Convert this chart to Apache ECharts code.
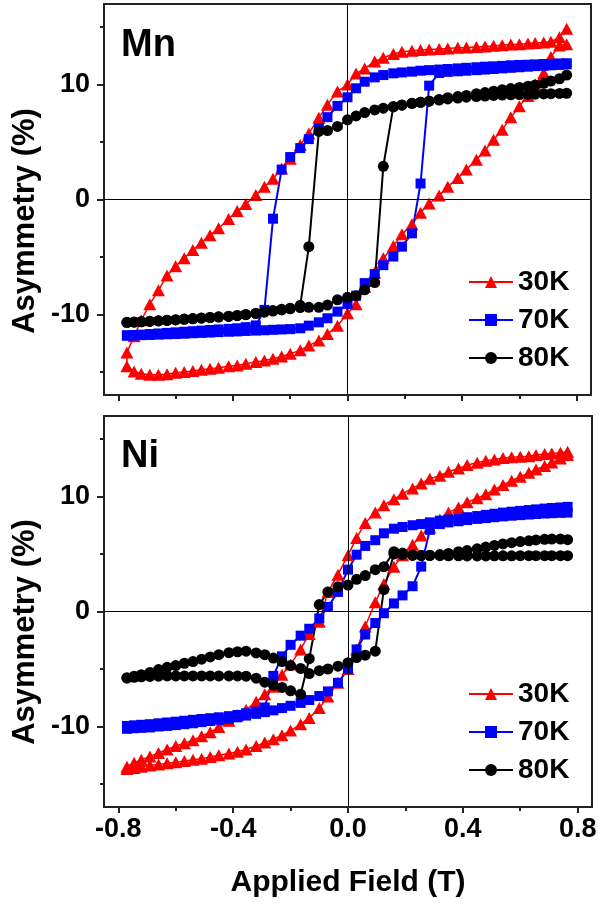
<!DOCTYPE html>
<html>
<head>
<meta charset="utf-8">
<script src="https://cdn.jsdelivr.net/npm/echarts@6/dist/echarts.min.js"></script>
<style>html,body{margin:0;padding:0;background:#fff}#chart{width:600px;height:904px}</style>
</head>
<body>
<div id="chart"></div>
<script>
// ---- data (applied field in T, asymmetry in %) ----
const fieldGrid = [-0.77, -0.745, -0.72, -0.69, -0.66, -0.63, -0.60, -0.57, -0.54, -0.51,
  -0.48, -0.45, -0.415, -0.385, -0.355, -0.32, -0.29, -0.26, -0.23, -0.20,
  -0.165, -0.135, -0.10, -0.07, -0.035, 0, 0.03, 0.06, 0.095, 0.125,
  0.16, 0.19, 0.225, 0.255, 0.285, 0.32, 0.35, 0.385, 0.415, 0.45,
  0.48, 0.51, 0.54, 0.57, 0.60, 0.63, 0.655, 0.685, 0.71, 0.74, 0.765];

// Mn panel: descending-field branch and ascending-field branch (values listed at fieldGrid order)
const mn30Down = [-13.3, -11.9, -10.5, -9.1, -7.9, -6.6, -5.8, -5.1, -4.4, -3.75,
  -3.1, -2.5, -1.7, -1.0, -0.4, 0.4, 1.1, 1.8, 2.7, 3.55,
  4.75, 5.75, 7.1, 8.25, 9.4, 10.0, 10.95, 11.4, 12.0, 12.33,
  12.65, 12.85, 12.93, 13.0, 13.05, 13.08, 13.14, 13.19, 13.22, 13.27,
  13.3, 13.36, 13.42, 13.48, 13.5, 13.57, 13.6, 13.65, 13.72, 14.1, 14.85];
const mn30Up = [-14.5, -14.95, -15.15, -15.24, -15.24, -15.2, -15.07, -15.0, -14.92, -14.8,
  -14.72, -14.63, -14.5, -14.43, -14.29, -14.12, -14.0, -13.85, -13.65, -13.42,
  -13.1, -12.7, -12.27, -11.7, -10.97, -9.9, -9.1, -7.6, -6.35, -5.1,
  -4.04, -3.03, -2.16, -1.15, -0.35, 0.35, 1.1, 1.88, 2.6, 3.46,
  4.27, 5.19, 6.06, 7.16, 8.1, 9.0, 10.0, 11.0, 12.4, 13.4, 13.5];
const mn70Down = [-11.8, -11.78, -11.75, -11.7, -11.65, -11.6, -11.55, -11.5, -11.45, -11.4,
  -11.35, -11.3, -11.25, -11.2, -11.1, -10.95, -9.6, -1.67, 2.6, 3.69,
  4.47, 5.25, 6.2, 7.16, 8.14, 8.89, 9.67, 10.24, 10.62, 10.82,
  10.97, 11.05, 11.12, 11.2, 11.25, 11.3, 11.35, 11.4, 11.45, 11.5,
  11.55, 11.58, 11.62, 11.67, 11.7, 11.72, 11.75, 11.78, 11.8, 11.83, 11.85];
const mn70Up = [-11.85, -11.83, -11.8, -11.78, -11.75, -11.72, -11.7, -11.67, -11.63, -11.6,
  -11.57, -11.53, -11.5, -11.47, -11.43, -11.4, -11.37, -11.33, -11.3, -11.27,
  -11.2, -10.97, -10.68, -10.33, -9.75, -9.09, -8.37, -7.27, -6.49, -5.71,
  -4.96, -4.1, -2.94, 1.39, 9.9, 11.0, 11.1, 11.15, 11.2, 11.25,
  11.3, 11.35, 11.4, 11.45, 11.5, 11.55, 11.6, 11.63, 11.67, 11.7, 11.75];
const mn80Down = [-10.68, -10.65, -10.62, -10.58, -10.55, -10.5, -10.45, -10.4, -10.35, -10.3,
  -10.25, -10.2, -10.15, -10.08, -10.0, -9.9, -9.75, -9.65, -9.55, -9.45,
  -9.2, -4.1, 5.92, 6.0, 6.35, 6.93, 7.27, 7.56, 7.79, 7.94,
  8.05, 8.2, 8.35, 8.45, 8.55, 8.65, 8.75, 8.82, 8.9, 8.95,
  9.0, 9.05, 9.08, 9.1, 9.12, 9.14, 9.16, 9.18, 9.2, 9.22, 9.24];
const mn80Up = [-10.7, -10.67, -10.64, -10.6, -10.56, -10.52, -10.47, -10.42, -10.37, -10.32,
  -10.27, -10.22, -10.17, -10.1, -10.02, -9.92, -9.8, -9.7, -9.6, -9.5,
  -9.4, -9.38, -9.38, -9.18, -8.72, -8.51, -8.37, -7.85, -7.22, 2.89,
  8.08, 8.22, 8.37, 8.45, 8.55, 8.7, 8.85, 8.95, 9.05, 9.2,
  9.3, 9.42, 9.55, 9.65, 9.75, 9.85, 9.95, 10.1, 10.3, 10.5, 10.82];

// Ni panel
const ni30Down = [-13.5, -13.16, -12.9, -12.6, -12.3, -12.0, -11.7, -11.45, -11.2, -10.85,
  -10.5, -10.05, -9.5, -9.0, -8.55, -7.85, -7.2, -6.55, -5.5, -4.6,
  -3.3, -1.95, -0.9, 1.7, 3.2, 4.9, 6.4, 7.7, 8.6, 9.25,
  9.76, 10.25, 10.7, 11.14, 11.55, 11.8, 12.15, 12.44, 12.73, 12.93,
  13.1, 13.22, 13.35, 13.42, 13.45, 13.5, 13.6, 13.7, 13.74, 13.8, 13.9];
const ni30Up = [-13.7, -13.6, -13.5, -13.4, -13.3, -13.2, -13.1, -13.0, -12.9, -12.8,
  -12.65, -12.5, -12.35, -12.2, -12.0, -11.7, -11.4, -11.1, -10.75, -10.35,
  -9.8, -9.25, -8.4, -7.4, -6.2, -5.0, -3.3, -1.3, 0.8, 2.4,
  3.9, 4.9, 5.8, 6.6, 7.3, 8.0, 8.6, 9.05, 9.5, 9.85,
  10.2, 10.6, 11.0, 11.37, 11.72, 12.06, 12.35, 12.65, 12.95, 13.3, 13.6];
const ni70Down = [-9.95, -9.9, -9.85, -9.8, -9.72, -9.65, -9.58, -9.5, -9.42, -9.35,
  -9.28, -9.2, -9.1, -9.0, -8.85, -8.7, -8.35, -5.6, -3.9, -2.9,
  -2.1, -1.5, -0.6, 0.4, 1.7, 3.64, 4.94, 5.7, 6.2, 6.8,
  7.2, 7.35, 7.5, 7.6, 7.75, 7.9, 8.0, 8.1, 8.2, 8.3,
  8.4, 8.5, 8.6, 8.68, 8.75, 8.82, 8.88, 8.95, 9.0, 9.05, 9.1];
const ni70Up = [-10.2, -10.15, -10.12, -10.08, -10.0, -9.95, -9.88, -9.8, -9.72, -9.62,
  -9.52, -9.42, -9.32, -9.2, -9.05, -8.9, -8.75, -8.6, -8.4, -8.2,
  -7.95, -7.7, -7.35, -6.95, -6.2, -5.0, -3.3, -2.0, -1.0, -0.15,
  0.7, 1.4, 2.2, 3.9, 7.1, 7.6, 7.75, 7.85, 7.95, 8.05,
  8.12, 8.2, 8.27, 8.33, 8.38, 8.43, 8.48, 8.52, 8.55, 8.58, 8.6];
const ni80Down = [-5.8, -5.72, -5.68, -5.65, -5.62, -5.6, -5.6, -5.6, -5.6, -5.6,
  -5.6, -5.6, -5.6, -5.6, -5.62, -5.8, -6.15, -6.4, -6.6, -6.9,
  -7.2, -4.1, 0.6, 1.7, 2.15, 2.3, 2.8, 3.12, 3.64, 3.9,
  5.2, 5.08, 4.92, 4.88, 4.86, 4.85, 4.84, 4.84, 4.83, 4.83,
  4.83, 4.84, 4.84, 4.84, 4.85, 4.85, 4.85, 4.85, 4.85, 4.85, 4.85];
const ni80Up = [-5.75, -5.62, -5.5, -5.3, -5.05, -4.85, -4.7, -4.5, -4.35, -4.15,
  -3.95, -3.75, -3.58, -3.5, -3.45, -3.6, -3.75, -4.05, -4.35, -4.7,
  -4.95, -5.4, -5.15, -5.0, -4.75, -4.45, -4.0, -3.8, -3.45, 1.9,
  5.0, 4.95, 4.88, 4.88, 4.9, 4.95, 5.05, 5.2, 5.3, 5.45,
  5.6, 5.75, 5.88, 5.98, 6.08, 6.15, 6.22, 6.28, 6.3, 6.3, 6.25];

// ticks and labels
const xTickValues = [-0.8, -0.4, 0, 0.4, 0.8];
const xMinorValues = [-0.6, -0.2, 0.2, 0.6];
const yTickValues = [-10, 0, 10];
const yMinorValues = [-15, -5, 5, 15];
const seriesNames = ['30K', '70K', '80K'];
const panelLabels = ['Mn', 'Ni'];
const xTitle = 'Applied Field (T)';
const yTitle = 'Asymmetry (%)';

// ---- chart ----
const FONT = '"Liberation Sans", Arial, Helvetica, sans-serif';
const AXIS_COLOR = '#222';

function loop(down, up) {
  const pts = [];
  for (let i = fieldGrid.length - 1; i >= 0; i--) pts.push([fieldGrid[i], down[i]]);
  for (let i = 0; i < fieldGrid.length; i++) pts.push([fieldGrid[i], up[i]]);
  return pts;
}

function xAxisFor(gi, vals, len, major, showLabels) {
  return {
    type: 'value', gridIndex: gi, min: -0.85, max: 0.85, position: 'bottom',
    axisLine: { show: major, onZero: false, lineStyle: { color: AXIS_COLOR, width: 2 } },
    axisTick: { show: true, inside: false, length: len, customValues: vals,
      lineStyle: { color: AXIS_COLOR, width: 2 } },
    axisLabel: { show: showLabels, customValues: vals, margin: 9,
      formatter: v => Number(v).toFixed(1),
      color: '#000', fontSize: 27, fontWeight: 'bold', fontFamily: FONT },
    splitLine: { show: false }
  };
}
function yAxisFor(gi, vals, len, major) {
  return {
    type: 'value', gridIndex: gi, min: -17, max: 17, position: 'left',
    axisLine: { show: major, onZero: false, lineStyle: { color: AXIS_COLOR, width: 2 } },
    axisTick: { show: true, inside: false, length: len, customValues: vals,
      lineStyle: { color: AXIS_COLOR, width: 2 } },
    axisLabel: { show: major, customValues: vals, margin: 14,
      formatter: v => String(v),
      color: '#000', fontSize: 27, fontWeight: 'bold', fontFamily: FONT },
    splitLine: { show: false }
  };
}

const styles = [
  { color: '#ff0000', symbol: 'triangle', size: [13, 12], width: 1.5 },
  { color: '#0000ff', symbol: 'rect', size: 10, width: 2 },
  { color: '#000000', symbol: 'circle', size: 11, width: 2 }
];
const panelData = [
  [loop(mn30Down, mn30Up), loop(mn70Down, mn70Up), loop(mn80Down, mn80Up)],
  [loop(ni30Down, ni30Up), loop(ni70Down, ni70Up), loop(ni80Down, ni80Up)]
];

const series = [];
for (let gi = 0; gi < 2; gi++) {
  series.push({
    type: 'line', xAxisIndex: gi * 2, yAxisIndex: gi * 2, data: [], silent: true,
    markLine: { silent: true, symbol: ['none', 'none'], label: { show: false },
      lineStyle: { color: '#000', width: 1, type: 'solid' }, animation: false,
      emphasis: { disabled: true },
      data: [{ xAxis: 0 }, { yAxis: 0 }] }
  });
  for (let k = 0; k < 3; k++) {
    const s = styles[k];
    series.push({
      name: seriesNames[k], type: 'line', xAxisIndex: gi * 2, yAxisIndex: gi * 2,
      data: panelData[gi][k], symbol: s.symbol, symbolSize: s.size, showSymbol: true,
      showAllSymbol: true,
      lineStyle: { color: s.color, width: s.width }, itemStyle: { color: s.color },
      emphasis: { disabled: true }, animation: false
    });
  }
}

const legendBase = {
  data: seriesNames, orient: 'vertical', left: 463, itemWidth: 44, itemHeight: 15,
  itemGap: 10, selectedMode: false,
  textStyle: { fontSize: 28, fontWeight: 'bold', fontFamily: FONT, color: '#000', lineHeight: 27 }
};

const option = {
  backgroundColor: '#fff',
  animation: false,
  grid: [
    { left: 104, top: 4, width: 487, height: 391, show: true, borderColor: AXIS_COLOR, borderWidth: 2 },
    { left: 104, top: 416, width: 488, height: 391, show: true, borderColor: AXIS_COLOR, borderWidth: 2 }
  ],
  xAxis: [
    xAxisFor(0, xTickValues, 6, true, false), xAxisFor(0, xMinorValues, 4, false, false),
    xAxisFor(1, xTickValues, 6, true, true), xAxisFor(1, xMinorValues, 4, false, false)
  ],
  yAxis: [
    yAxisFor(0, yTickValues, 7, true), yAxisFor(0, yMinorValues, 4, false),
    yAxisFor(1, yTickValues, 7, true), yAxisFor(1, yMinorValues, 4, false)
  ],
  legend: [
    Object.assign({}, legendBase, { top: 263 }),
    Object.assign({}, legendBase, { top: 675 })
  ],
  graphic: [
    { type: 'text', x: 121, y: 46, silent: true,
      style: { text: panelLabels[0], font: 'bold 38px ' + FONT, fill: '#000', align: 'left', verticalAlign: 'middle' } },
    { type: 'text', x: 121, y: 457, silent: true,
      style: { text: panelLabels[1], font: 'bold 38px ' + FONT, fill: '#000', align: 'left', verticalAlign: 'middle' } },
    { type: 'text', x: 25, y: 221, rotation: Math.PI / 2, silent: true,
      style: { text: yTitle, font: 'bold 31px ' + FONT, fill: '#000', align: 'center', verticalAlign: 'middle' } },
    { type: 'text', x: 25, y: 632, rotation: Math.PI / 2, silent: true,
      style: { text: yTitle, font: 'bold 31px ' + FONT, fill: '#000', align: 'center', verticalAlign: 'middle' } },
    { type: 'text', x: 348, y: 883, silent: true,
      style: { text: xTitle, font: 'bold 30px ' + FONT, fill: '#000', align: 'center', verticalAlign: 'middle' } }
  ],
  series: series
};

const chart = echarts.init(document.getElementById('chart'), null, { renderer: 'canvas' });
chart.setOption(option);
</script>
</body>
</html>
